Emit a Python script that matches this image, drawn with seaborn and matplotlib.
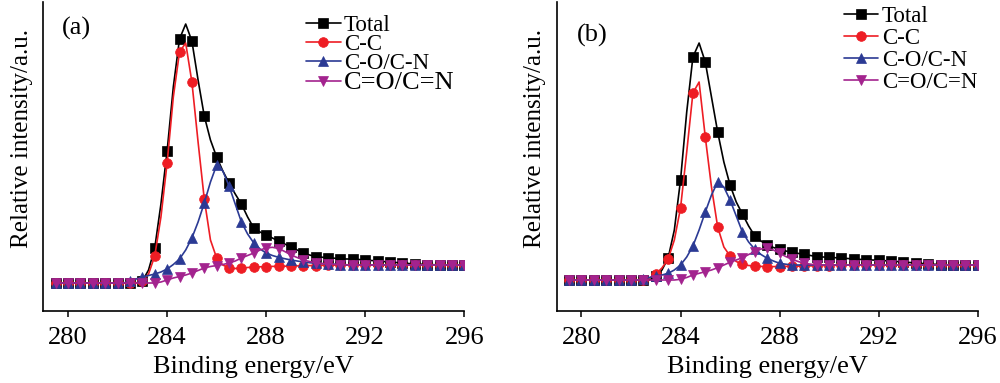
import numpy as np
import pandas as pd
import matplotlib
matplotlib.use("Agg")
import matplotlib.pyplot as plt
import seaborn as sns

# ---------------- data ----------------
energy = np.arange(279.5, 296.001, 0.25)   # binding energy grid (eV), markers every 0.5 eV

series_labels = ["Total", "C-C", "C-O/C-N", "C=O/C=N"]
xticks = [280, 284, 288, 292, 296]

# panel (a)
a_total = [29]*14 + [31, 42, 64, 108, 161, 225, 273, 288, 271, 232, 196, 172, 155, 141, 129, 118,
           108, 95, 84, 80, 77, 74, 71, 68, 65, 62, 59, 57, 55.5, 54.8, 54.3, 53.8, 53.3, 53, 53,
           52.5, 52, 51.5, 51, 50.5, 50, 49.5, 49, 48.5, 48, 47.8, 47.5, 47.3, 47, 47, 47, 47, 47]
a_cc = [29]*14 + [31, 38, 56, 95, 149, 215, 260, 269, 230, 170, 113, 72, 54, 47, 44, 43.5,
        44, 44.5, 45, 45.2, 45.5, 45.6, 45.7, 45.8, 46, 46.1, 46.2, 46.4, 46.5, 46.7, 46.8, 46.9, 47, 47, 47,
        47, 47, 47, 47, 47, 47, 47, 47, 47, 47, 47, 47, 47, 47, 47, 47, 47, 47]
a_co = [29]*12 + [31, 33, 35, 36.5, 38, 40, 43, 47.5, 53, 62, 74, 90, 109, 130, 147, 141, 126, 108,
        90, 78, 69, 63, 59, 56.5, 54.7, 53.3, 52, 51, 50, 49.3, 48.7, 48.3, 48, 47.7, 47.5, 47.2, 47,
        47, 47, 47, 47, 47, 47, 47, 47, 47, 47, 47, 47, 47, 47, 47, 47, 47, 47]
a_cn = [29]*17 + [30, 32, 34, 35.5, 37, 39, 41.5, 44, 45.5, 46.5, 47.5, 49, 51,
        54, 56.5, 59, 62, 64, 64.7, 63.5, 60.5, 57, 54.5, 52, 50.5, 49.3, 48.5, 48, 47.7, 47.5, 47.2, 47,
        47, 47, 47, 47, 47, 47, 47, 47, 47, 47, 47, 47, 47, 47, 47, 47, 47, 47]

# panel (b)
b_total = [32]*14 + [36, 42, 54, 82, 132, 200, 255, 269, 250, 215, 180, 150, 127, 110, 98, 86,
           76, 71, 67, 64.5, 62.7, 61, 59.7, 58.6, 57.7, 56.5, 55.3, 55, 54.7, 54.3, 54, 53.5, 53,
           52.6, 52.3, 52, 51.7, 51.3, 51, 50.5, 50, 49.5, 49, 48.5, 48, 47.7, 47.5, 47.2, 47, 47, 47, 47, 47]
b_cc = [32]*13 + [34, 38, 44, 53, 72, 104, 160, 219, 230, 175, 125, 85, 65, 56, 50.5, 47.7, 46.5,
        46, 45.6, 45.3, 45.4, 45.5, 45.6, 45.7, 45.8, 46, 46.1, 46.2, 46.4, 46.5, 46.7, 46.8, 46.9, 47, 47, 47,
        47, 47, 47, 47, 47, 47, 47, 47, 47, 47, 47, 47, 47, 47, 47, 47, 47, 47]
b_co = [32]*12 + [33, 34.5, 36, 37, 38.7, 42, 47, 55, 66, 82, 100, 117, 130, 125, 112, 96, 80, 70,
        62.7, 57.5, 53.7, 51, 48.7, 47.8, 47, 47, 47, 47, 47, 47, 47, 47, 47, 47, 47, 47, 47,
        47, 47, 47, 47, 47, 47, 47, 47, 47, 47, 47, 47, 47, 47, 47, 47, 47, 47]
b_cn = [32]*18 + [32.7, 34.5, 37, 38.7, 40.3, 42, 44.3, 47, 49.7, 52, 54.3, 57.5,
        60.3, 63, 63.7, 62, 58.7, 55.5, 52.7, 50.5, 48.7, 47.8, 47, 47, 47, 47, 47, 47, 47,
        47, 47, 47, 47, 47, 47, 47, 47, 47, 47, 47, 47, 47, 47, 47, 47, 47, 47, 47, 47]

panels = [("(a)", [a_total, a_cc, a_co, a_cn]), ("(b)", [b_total, b_cc, b_co, b_cn])]

lens = [len(s) for _, ss in panels for s in ss]
if any(n != len(energy) for n in lens):
    raise ValueError(f"lengths {lens} vs {len(energy)}")

# ---------------- style ----------------
sns.set_style("ticks")
plt.rcParams["font.family"] = ["Liberation Serif", "DejaVu Serif"]
plt.rcParams["text.color"] = "black"
plt.rcParams["axes.labelcolor"] = "black"
plt.rcParams["xtick.color"] = "black"
plt.rcParams["ytick.color"] = "black"

colors = ["#000000", "#EE1D24", "#2B3A94", "#A3238E"]
markers = ["s", "o", "^", "v"]
msizes = [6.5, 7, 7.5, 7.5]

fig = plt.figure(figsize=(10, 3.83), dpi=100)
ax_pos = [[0.0433, 0.188, 0.421, 0.808], [0.5567, 0.188, 0.421, 0.808]]
leg_anchor = [(0.6245, 0.957), (0.682, 0.986)]
leg_space = [-0.09, 0.05]
lab_pos = [(0.044, 0.951), (0.0475, 0.929)]

for i, (plabel, ys) in enumerate(panels):
    ax = fig.add_axes(ax_pos[i])
    for k in range(4):
        df = pd.DataFrame({"E": energy, "I": ys[k]})
        sns.lineplot(data=df, x="E", y="I", ax=ax, color=colors[k], marker=markers[k],
                     markersize=msizes[k], markeredgecolor=colors[k], markeredgewidth=0.5,
                     markevery=2, linewidth=1.2, label=series_labels[k], errorbar=None,
                     zorder=2 + k)
    ax.set_xlim(279, 296)
    ax.set_ylim(1, 310.5)
    ax.set_xticks(xticks)
    ax.set_yticks([])
    ax.tick_params(axis="x", direction="out", length=4.3, width=1.1, labelsize=19, pad=7,
                   color="black", labelcolor="black")
    for s in ["top", "right"]:
        ax.spines[s].set_visible(False)
    for s in ["left", "bottom"]:
        ax.spines[s].set_linewidth(1.2)
        ax.spines[s].set_color("black")
    ax.set_xlabel("Binding energy/eV", fontsize=19, labelpad=5)
    ax.set_ylabel("Relative intensity/a.u.", fontsize=18)
    ax.yaxis.set_label_coords(-0.025, 0.556)
    ax.text(lab_pos[i][0], lab_pos[i][1], plabel, transform=ax.transAxes,
            fontsize=19, ha="left", va="top")
    leg = ax.legend(loc="upper left", bbox_to_anchor=leg_anchor[i], frameon=False,
                    fontsize=16.5, handlelength=1.5, handletextpad=0.15,
                    labelspacing=leg_space[i], borderpad=0, borderaxespad=0)
    for t in leg.get_texts():
        t.set_color("black")
    if i == 0:
        leg.get_texts()[3].set_fontsize(19)

fig.savefig("out.png", dpi=100)
